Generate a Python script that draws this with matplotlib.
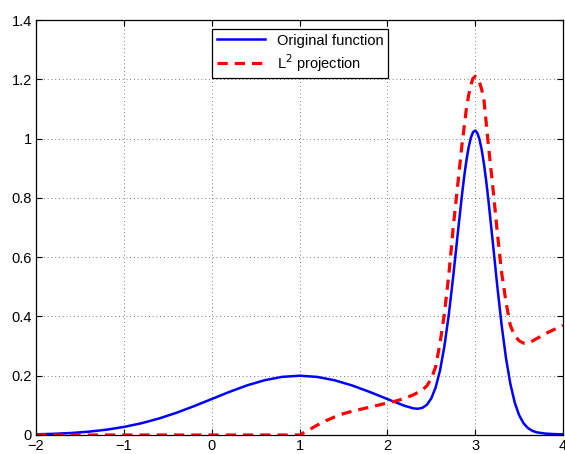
import matplotlib
matplotlib.use("Agg")
import matplotlib.pyplot as plt

plt.rcParams['font.family'] = ['Liberation Sans', 'DejaVu Sans']

# original function
x_orig = [-2.0, -1.8, -1.6, -1.4, -1.2, -1.0, -0.8, -0.6, -0.4, -0.2,
          0.0, 0.2, 0.4, 0.6, 0.8, 1.0, 1.2, 1.4, 1.6, 1.8, 2.0, 2.2,
          2.3, 2.35, 2.4, 2.45, 2.5, 2.55, 2.6, 2.65, 2.7, 2.75, 2.8, 2.85, 2.875,
          2.9, 2.925, 2.95, 2.975, 3.0, 3.025, 3.05, 3.075, 3.1, 3.125, 3.15, 3.2,
          3.25, 3.3, 3.35, 3.4, 3.45,
          3.5, 3.55, 3.6, 3.65, 3.7, 3.8, 3.9, 4.0]
y_orig = [0.0022, 0.0040, 0.0068, 0.0112, 0.0178, 0.0271, 0.0396, 0.0556, 0.0751, 0.0974,
          0.1213, 0.1452, 0.1671, 0.1846, 0.1960, 0.2000, 0.1960, 0.1846, 0.1671, 0.1452, 0.1213, 0.0981,
          0.0897, 0.0886, 0.0918, 0.1020, 0.1233, 0.1604, 0.2179, 0.2999, 0.4067, 0.5348, 0.6744, 0.8105, 0.8718,
          0.9255, 0.9695, 1.0019, 1.0213, 1.0271, 1.0186, 0.9965, 0.9613, 0.9147, 0.8582, 0.7942, 0.6526,
          0.5074, 0.3738, 0.2612, 0.1735, 0.1101,
          0.0672, 0.0398, 0.0235, 0.0142, 0.0090, 0.0047, 0.0031, 0.0022]

# L2 projection
x_proj = [-2.0, -1.0, 0.0, 1.0, 1.1, 1.2, 1.3, 1.4, 1.5, 1.6, 1.7, 1.8, 1.9,
          2.0, 2.1, 2.2, 2.3, 2.4, 2.45, 2.5, 2.55, 2.6, 2.65, 2.7, 2.75, 2.8,
          2.85, 2.9, 2.925, 2.95, 2.975, 3.0, 3.025, 3.05, 3.075, 3.1, 3.15, 3.2,
          3.25, 3.3, 3.35, 3.4,
          3.45, 3.5, 3.55, 3.6, 3.7, 3.8, 3.9, 4.0]
y_proj = [0.0, 0.0, 0.0, 0.0, 0.016, 0.033, 0.048, 0.061, 0.072, 0.080, 0.087, 0.094, 0.101,
          0.108, 0.115, 0.124, 0.136, 0.152, 0.166, 0.190, 0.230, 0.310, 0.410, 0.540, 0.700, 0.840,
          0.980, 1.100, 1.145, 1.180, 1.203, 1.210, 1.205, 1.190, 1.165, 1.130, 0.980, 0.840,
          0.690, 0.550, 0.450, 0.370,
          0.335, 0.318, 0.310, 0.309, 0.325, 0.342, 0.356, 0.370]

xticks = [-2, -1, 0, 1, 2, 3, 4]
yticks = [0, 0.2, 0.4, 0.6, 0.8, 1.0, 1.2, 1.4]
ytick_labels = ["0", "0.2", "0.4", "0.6", "0.8", "1", "1.2", "1.4"]

fig = plt.figure(figsize=(5.65, 4.54), dpi=100)
ax = fig.add_axes([36 / 565, 19 / 454, 527 / 565, 415 / 454])

ax.plot(x_orig, y_orig, color='#0000ff', lw=1.8, label='Original function')
ax.plot(x_proj, y_proj, color='#ff0000', lw=2.3, ls=(0, (3.2, 2.2)), label='L$^2$ projection')

ax.set_xlim(-2, 4)
ax.set_ylim(0, 1.4)
ax.set_xticks(xticks)
ax.set_yticks(yticks)
ax.set_yticklabels(ytick_labels)
ax.tick_params(direction='in', top=True, right=True, length=4, labelsize=10.5, pad=3)
ax.grid(True, color='black', ls=(0, (1, 3.5)), lw=0.6, alpha=0.7)
for s in ax.spines.values():
    s.set_linewidth(0.9)

leg = ax.legend(loc='upper center', bbox_to_anchor=(0.501, 0.978), fontsize=10.5,
                fancybox=False, edgecolor='black', framealpha=1, borderaxespad=0,
                handlelength=3.3, labelspacing=0.3, borderpad=0.3)
leg.get_frame().set_linewidth(0.9)

fig.savefig("out.png", dpi=100)
